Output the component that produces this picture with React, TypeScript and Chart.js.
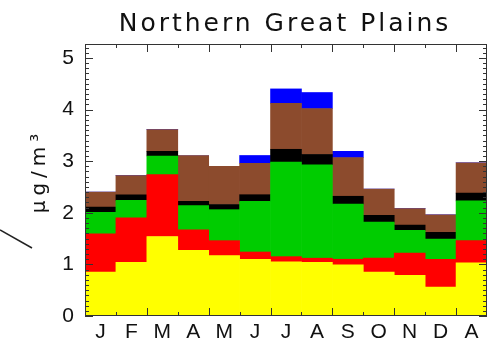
import React, { useEffect, useRef } from "react";
import { Chart, registerables } from "chart.js";
Chart.register(...registerables);

const months = ["J", "F", "M", "A", "M", "J", "J", "A", "S", "O", "N", "D", "A"];
const yellowSeries = [0.85, 1.04, 1.54, 1.27, 1.17, 1.1, 1.05, 1.04, 0.99, 0.85, 0.79, 0.56, 1.03];
const redSeries = [0.74, 0.86, 1.2, 0.4, 0.29, 0.14, 0.1, 0.08, 0.11, 0.27, 0.43, 0.54, 0.43];
const greenSeries = [0.42, 0.34, 0.36, 0.47, 0.6, 0.98, 1.83, 1.81, 1.07, 0.7, 0.44, 0.39, 0.77];
const blackSeries = [0.1, 0.11, 0.09, 0.08, 0.1, 0.13, 0.25, 0.2, 0.15, 0.13, 0.1, 0.13, 0.15];
const brownSeries = [0.29, 0.37, 0.42, 0.89, 0.74, 0.61, 0.89, 0.89, 0.75, 0.51, 0.32, 0.34, 0.59];
const blueSeries = [0, 0, 0, 0, 0, 0.15, 0.28, 0.31, 0.12, 0, 0, 0, 0];
const yTickValues = [0, 1, 2, 3, 4, 5];
const titleText = "Northern Great Plains";
const yTitleText = "µg/m³";

const framePlugin = {
  id: "frame",
  afterDatasetsDraw(chart: any) {
    const { ctx, chartArea: a, scales } = chart;
    const y = scales.y;
    const x = scales.x;
    ctx.save();
    ctx.strokeStyle = "#333";
    ctx.lineWidth = 1;
    ctx.strokeRect(a.left + 0.5, a.top + 0.5, a.right - a.left - 1, a.bottom - a.top - 1);
    ctx.beginPath();
    for (let v = 0; v <= 5.2; v += 0.1) {
      const vv = Math.round(v * 10) / 10;
      const py = Math.round(y.getPixelForValue(vv)) + 0.5;
      const major = Math.abs(vv - Math.round(vv)) < 1e-6;
      const len = major ? 8 : 4;
      ctx.moveTo(a.left, py);
      ctx.lineTo(a.left + len, py);
      ctx.moveTo(a.right, py);
      ctx.lineTo(a.right - len, py);
    }
    const n = months.length;
    for (let i = 1; i < n; i++) {
      const px = Math.round((x.getPixelForValue(i - 1) + x.getPixelForValue(i)) / 2) + 0.5;
      const len = i % 2 === 0 ? 8 : 4;
      ctx.moveTo(px, a.top);
      ctx.lineTo(px, a.top + len);
      ctx.moveTo(px, a.bottom);
      ctx.lineTo(px, a.bottom - len);
    }
    ctx.stroke();
    // decorative stray line at left
    ctx.beginPath();
    ctx.strokeStyle = "#222";
    ctx.lineWidth = 1.5;
    ctx.moveTo(0, 230);
    ctx.lineTo(32, 248);
    ctx.stroke();

    // title
    ctx.fillStyle = "#111";
    ctx.font = "25px 'DejaVu Sans'";
    (ctx as any).letterSpacing = "3px";
    ctx.textAlign = "center";
    ctx.textBaseline = "alphabetic";
    ctx.fillText(titleText, (a.left + a.right) / 2 - 1, 31);

    // y title
    ctx.translate(45, 171);
    ctx.rotate(-Math.PI / 2);
    ctx.font = "20px 'DejaVu Sans'";
    (ctx as any).letterSpacing = "5px";
    ctx.textAlign = "center";
    ctx.fillText(yTitleText, 0, 0);
    ctx.restore();
  },
};

export default function App() {
  const ref = useRef<HTMLCanvasElement>(null);
  useEffect(() => {
    const mk = (label: string, data: number[], color: string) => ({
      label,
      data,
      backgroundColor: color,
      borderWidth: 0,
      barPercentage: 1,
      categoryPercentage: 1,
    });
    const chart = new Chart(ref.current!, {
      type: "bar",
      data: {
        labels: months,
        datasets: [
          mk("yellow", yellowSeries, "#FFFF00"),
          mk("red", redSeries, "#FF0000"),
          mk("green", greenSeries, "#00CC00"),
          mk("black", blackSeries, "#000000"),
          mk("brown", brownSeries, "#8C4B2D"),
          mk("blue", blueSeries, "#0000FF"),
        ],
      },
      options: {
        responsive: false,
        animation: false,
        devicePixelRatio: 1,
        layout: { padding: { left: 0, right: 12, top: 44, bottom: 0 } },
        plugins: {
          legend: { display: false },
          tooltip: { enabled: false },
          title: { display: false },
        },
        scales: {
          x: {
            stacked: true,
            grid: { display: false, drawTicks: false },
            border: { display: false },
            ticks: {
              color: "#111",
              font: { family: "Liberation Sans", size: 21 },
              padding: 4,
              maxRotation: 0,
              autoSkip: false,
            },
            afterFit: (s: any) => {
              s.height = 28;
            },
          },
          y: {
            stacked: true,
            min: 0,
            max: 5.27,
            grid: { display: false, drawTicks: false },
            border: { display: false },
            ticks: {
              color: "#111",
              font: { family: "Liberation Sans", size: 21 },
              padding: 11,
              stepSize: 1,
            },
            afterBuildTicks: (s: any) => {
              s.ticks = yTickValues.map((v) => ({ value: v }));
            },
            afterFit: (s: any) => {
              s.width = 85;
            },
          },
        },
      },
      plugins: [framePlugin],
    });
    return () => chart.destroy();
  }, []);
  return (
    <canvas
      ref={ref}
      width={499}
      height={344}
      style={{ position: "fixed", left: 0, top: 0, width: 499, height: 344, display: "block", background: "#fff" }}
    />
  );
}
